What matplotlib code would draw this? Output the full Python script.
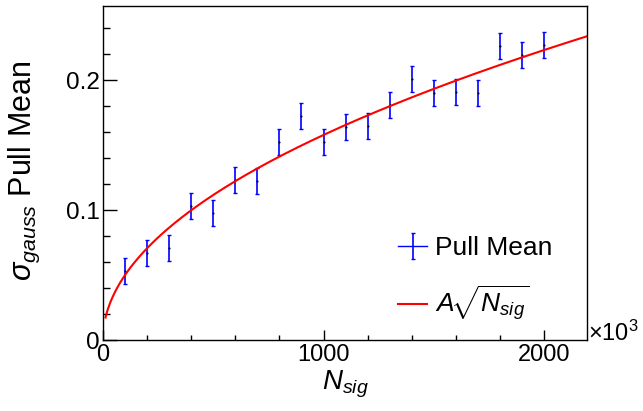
import numpy as np
import matplotlib
matplotlib.use("Agg")
import matplotlib.pyplot as plt
from matplotlib.lines import Line2D
from matplotlib.ticker import MultipleLocator

plt.rcParams["font.family"] = ["Liberation Sans", "DejaVu Sans"]
plt.rcParams["mathtext.fontset"] = "custom"
plt.rcParams["mathtext.rm"] = "Liberation Sans"
plt.rcParams["mathtext.it"] = "Liberation Sans:italic"
plt.rcParams["mathtext.sf"] = "Liberation Sans"

# pull mean vs number of signal events
n_sig = [100, 200, 300, 400, 500, 600, 700, 800, 900, 1000,
         1100, 1200, 1300, 1400, 1500, 1600, 1700, 1800, 1900, 2000]
pull_mean = [0.053, 0.067, 0.071, 0.103, 0.098, 0.123, 0.122, 0.152, 0.172, 0.152,
             0.164, 0.165, 0.181, 0.201, 0.190, 0.191, 0.190, 0.226, 0.219, 0.227]
pull_err = [0.010] * 20

# fit A*sqrt(N)
A = 0.00499
fit_lo, fit_hi = 12, 2190

fig = plt.figure(figsize=(6.43, 4.11), dpi=100)
ax = fig.add_axes([0.160, 0.1727, 0.753, 0.8127])

eb = ax.errorbar(n_sig, pull_mean, yerr=pull_err, fmt="none", ecolor="#0000ff",
                 elinewidth=1.2, capsize=1.5, capthick=1.0)
ax.plot(n_sig, pull_mean, ".", color="black", ms=1)

xf = np.linspace(fit_lo, fit_hi, 400)
fit_line, = ax.plot(xf, A * np.sqrt(xf), color="red", lw=1.5)

ax.set_xlim(0, 2194)
ax.set_ylim(0, 0.257)
ax.xaxis.set_major_locator(MultipleLocator(1000))
ax.xaxis.set_minor_locator(MultipleLocator(200))
ax.yaxis.set_major_locator(MultipleLocator(0.1))
ax.yaxis.set_minor_locator(MultipleLocator(0.02))
ax.xaxis.set_major_formatter(plt.FuncFormatter(lambda v, p: f"{v:.0f}"))
ax.yaxis.set_major_formatter(plt.FuncFormatter(lambda v, p: "0" if v == 0 else f"{v:.1f}"))

ax.tick_params(axis="x", which="major", direction="in", length=7, width=1, labelsize=17, pad=3)
ax.tick_params(axis="x", which="minor", direction="in", length=3.6, width=1)
ax.tick_params(axis="y", which="major", direction="in", length=10, width=1, labelsize=17.5, pad=2)
ax.tick_params(axis="y", which="minor", direction="in", length=5, width=1)
for s in ax.spines.values():
    s.set_linewidth(1)

ax.set_xlabel(r"$N_{sig}$", fontsize=20, labelpad=2)
ax.set_ylabel(r"$\sigma_{gauss}$ Pull Mean", fontsize=22, loc="top")
ax.yaxis.set_label_coords(-0.125, 0.835)

ax.text(1.002, 0.02, r"$\times$10$^{3}$", transform=ax.transAxes, fontsize=17,
        ha="left", va="center")

h_line = Line2D([], [], color="#0000ff", lw=1.0)
ax.legend([(h_line, eb), fit_line], ["Pull Mean", r"$A\!\sqrt{N_{sig}}$"],
          loc="upper left", bbox_to_anchor=(0.61, 0.31), frameon=False,
          fontsize=19, handlelength=1.1, handletextpad=0.3, labelspacing=0.9,
          borderpad=0, borderaxespad=0)

fig.savefig("out.png", dpi=100)
